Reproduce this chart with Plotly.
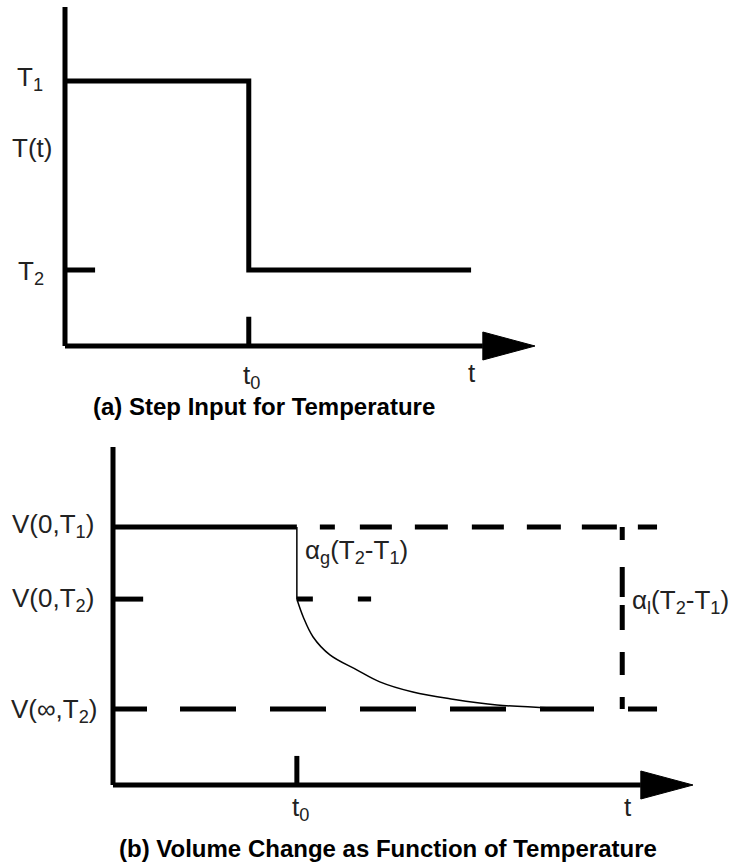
import plotly.graph_objects as go

W, H = 737, 865

# ---------------- Panel (a): step input for temperature ----------------
a_t_max = 10.0          # end of time axis (arrow tip)
a_T_max = 10.0          # top of temperature axis
a_t0 = 3.91             # step time
a_t_end = 8.64          # end of the drawn T2 level
a_arrow_base = 8.89
a_T1 = 7.82
a_T2 = 2.24
a_T2_tick = 0.64
a_t0_tick = 0.86
a_Tt_label = 5.84

step_t = [0, a_t0, a_t0, a_t_end]
step_T = [a_T1, a_T1, a_T2, a_T2]
a_ticklabels = {"T1": "T<sub>1</sub>", "Tt": "T(t)", "T2": "T<sub>2</sub>"}

# ---------------- Panel (b): volume change ----------------
b_t_max = 10.0
b_V_max = 10.0
b_arrow_base = 9.10
b_t0 = 3.17
b_V1 = 7.63        # V(0,T1)
b_V2 = 5.50        # V(0,T2)
b_Vinf = 2.25      # V(inf,T2)
b_t_liq = 8.78     # vertical dashed (liquid response)
b_t_end = 9.38
b_V2_tick = 0.52
b_V2_dash_end = 4.45
b_t0_tick = 0.86
curve_t = [3.17, 3.28, 3.45, 3.74, 4.21, 4.60, 5.17, 5.86, 6.62, 7.59]
curve_V = [5.50, 4.97, 4.38, 3.85, 3.40, 3.05, 2.75, 2.54, 2.37, 2.28]

FONT = "Liberation Sans, Arial, Helvetica, sans-serif"
TXT = "#222222"
LW = 5


def xdom(px_a, a, px_b, b, rng):
    s = (px_b - px_a) / (b - a)
    return [(px_a + (rng[0] - a) * s) / W, (px_a + (rng[1] - a) * s) / W]


def ydom(px_a, a, px_b, b, rng):
    s = (px_b - px_a) / (b - a)
    return [1 - (px_a + (rng[0] - a) * s) / H, 1 - (px_a + (rng[1] - a) * s) / H]


fig = go.Figure()


def line(x, y, xa, ya, width=LW, dash="solid", shape="linear"):
    fig.add_trace(go.Scatter(x=x, y=y, mode="lines", xaxis=xa, yaxis=ya,
                             line=dict(color="black", width=width, dash=dash, shape=shape),
                             hoverinfo="skip", showlegend=False))


def tri(x_base, x_tip, half, xa, ya):
    fig.add_trace(go.Scatter(x=[x_base, x_tip, x_base, x_base], y=[half, 0, -half, half],
                             mode="lines", fill="toself", fillcolor="black",
                             line=dict(color="black", width=1), xaxis=xa, yaxis=ya,
                             hoverinfo="skip", showlegend=False))


# ----- panel a drawing (axes x, y)
line([0, 0], [0, a_T_max], "x", "y")
line([0, a_arrow_base], [0, 0], "x", "y")
tri(a_arrow_base, a_t_max, 14 / 33.9, "x", "y")
line(step_t, step_T, "x", "y")
line([0, a_T2_tick], [a_T2, a_T2], "x", "y")
line([a_t0, a_t0], [0, a_t0_tick], "x", "y")

# ----- panel b drawing (axes x2, y2)
line([0, 0], [0, b_V_max], "x2", "y2")
line([0, b_arrow_base], [0, 0], "x2", "y2")
tri(b_arrow_base, b_t_max, 14 / 33.8, "x2", "y2")
line([b_t0, b_t0], [0, b_t0_tick], "x2", "y2")
line([0, b_t0], [b_V1, b_V1], "x2", "y2")
line([b_t0, b_t_end], [b_V1, b_V1], "x2", "y2",
     dash="0px,23px,15px,25px,32px,23px,33px,24px,32px,23px,34px,21px,35px,21px,16px")
line([0, b_V2_tick], [b_V2, b_V2], "x2", "y2")
line([b_t0, b_V2_dash_end], [b_V2, b_V2], "x2", "y2", dash="16px,45px,20px")
line([0, b_t_end], [b_Vinf, b_Vinf], "x2", "y2",
     dash="34px,33px,56px,34px,56px,34px,56px,34px,56px,34px,54px,34px,30px")
line([b_t_liq, b_t_liq], [b_V1, b_Vinf], "x2", "y2",
     dash="13px,27px,30px,8px,25px,22px,23px,22px,13px")
line([b_t0, b_t0], [b_V1, b_V2], "x2", "y2", width=1.5)
line(curve_t, curve_V, "x2", "y2", width=1.5, shape="spline")

a_xr = [-1.2, 11.5]
a_yr = [-1.5, 10.15]
b_xr = [-1.5, 10.5]
b_yr = [-1.5, 10.2]

ax = dict(visible=False, showgrid=False, zeroline=False, fixedrange=True)
fig.update_layout(
    width=W, height=H, margin=dict(l=0, r=0, t=0, b=0),
    paper_bgcolor="white", plot_bgcolor="white", showlegend=False,
    xaxis=dict(ax, range=a_xr, domain=xdom(65, 0, 535, a_t_max, a_xr), anchor="y"),
    yaxis=dict(ax, range=a_yr, domain=ydom(346, 0, 7, a_T_max, a_yr), anchor="x"),
    xaxis2=dict(ax, range=b_xr, domain=xdom(113, 0, 693, b_t_max, b_xr), anchor="y2"),
    yaxis2=dict(ax, range=b_yr, domain=ydom(785, 0, 447, b_V_max, b_yr), anchor="x2"),
)

f = dict(family=FONT, size=26, color=TXT)
ann = []


def lab(text, x, y, xr, yr, xanchor="center", xshift=0, yshift=0):
    ann.append(dict(text=text, x=x, y=y, xref=xr, yref=yr, xanchor=xanchor, yanchor="middle",
                    xshift=xshift, yshift=yshift, showarrow=False, font=f))


lab(a_ticklabels["T1"], 0, a_T1, "x", "y", "right", -20, 2)
lab(a_ticklabels["Tt"], 0, a_Tt_label, "x", "y", "right", -11)
lab(a_ticklabels["T2"], 0, a_T2, "x", "y", "right", -19, -2)
lab("t<sub>0</sub>", a_t0, 0, "x", "y", "center", 3, -30)
lab("t", a_t_end, 0, "x", "y", "center", 1, -27)

lab("V(0,T<sub>1</sub>)", 0, b_V1, "x2", "y2", "right", -17, 2)
lab("V(0,T<sub>2</sub>)", 0, b_V2, "x2", "y2", "right", -17, 0)
lab("V(∞,T<sub>2</sub>)", 0, b_Vinf, "x2", "y2", "right", -14, -2)
lab("α<sub>g</sub>(T<sub>2</sub>-T<sub>1</sub>)", b_t0, (b_V1 + b_V2) / 2, "x2", "y2", "left", 6, 12)
lab("α<sub>l</sub>(T<sub>2</sub>-T<sub>1</sub>)", b_t_liq, (b_V1 + b_Vinf) / 2, "x2", "y2", "left", 8, 17)
lab("t<sub>0</sub>", b_t0, 0, "x2", "y2", "center", 4, -23)
lab("t", b_t_liq, 0, "x2", "y2", "center", 6, -22)

cf = dict(family=FONT, size=24, color="black")
ann.append(dict(text="<b>(a) Step Input for Temperature</b>", x=264 / W, y=1 - 407 / H,
                xref="paper", yref="paper", xanchor="center", yanchor="middle",
                showarrow=False, font=cf))
ann.append(dict(text="<b>(b) Volume Change as Function of Temperature</b>", x=388 / W, y=1 - 848 / H,
                xref="paper", yref="paper", xanchor="center", yanchor="middle",
                showarrow=False, font=cf))
fig.update_layout(annotations=ann)

fig.write_html("out.html")
